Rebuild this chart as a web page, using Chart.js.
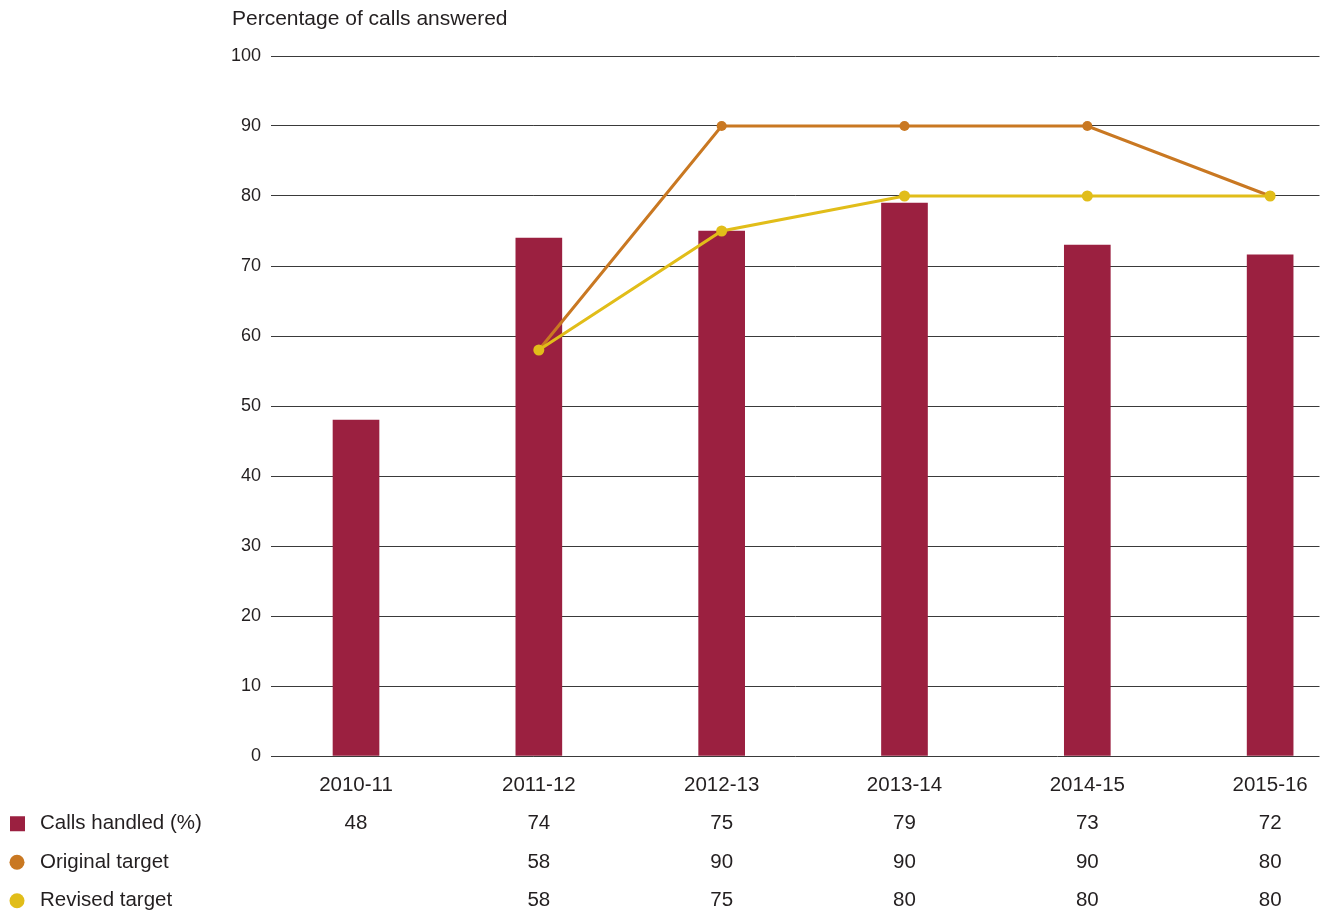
<!DOCTYPE html>
<html lang="en">
<head>
  <meta charset="UTF-8">
  <title>Percentage of calls answered</title>
  <script src="https://cdn.jsdelivr.net/npm/chart.js"></script>
  <style>
    body { margin: 0; background: #fff; }
    #wrap { width: 1325px; height: 913px; position: relative; }
  </style>
</head>
<body>
  <div id="wrap"><canvas id="myChart"></canvas></div>

  <script>
    // data
    const categories = ['2010-11', '2011-12', '2012-13', '2013-14', '2014-15', '2015-16'];
    const callsHandled = [48, 74, 75, 79, 73, 71.6];
    const originalTarget = [null, 58, 90, 90, 90, 80];
    const revisedTarget = [null, 58, 75, 80, 80, 80];
    const yTicks = [0, 10, 20, 30, 40, 50, 60, 70, 80, 90, 100];

    const seriesNames = ['Calls handled (%)', 'Original target', 'Revised target'];
    const colors = ['#9b2040', '#c97822', '#e1bd19'];

    const FONT = '"Liberation Sans", Arial, sans-serif';
    const TEXT = '#231f20';
    const FS = 20.5;
    const LINE_H = 38.5 / FS;

    const fmt = v => (v === null ? '' : String(Math.round(v)));
    const pts = arr => arr.map((v, i) => ({ x: i, y: v })).filter(p => p.y !== null);

    // y axis caption + row labels of the table under the x axis
    const extras = {
      id: 'extras',
      afterDraw(chart) {
        const ctx = chart.ctx;
        const xs = chart.scales.x;
        ctx.save();
        ctx.fillStyle = TEXT;
        ctx.textBaseline = 'middle';
        ctx.textAlign = 'left';
        ctx.font = '21px ' + FONT;
        ctx.fillText('Percentage of calls answered', 232, 19);

        ctx.font = FS + 'px ' + FONT;
        const lh = FS * LINE_H;
        const top = xs.top + xs.options.ticks.padding;
        seriesNames.forEach((name, i) => {
          const y = top + lh * (i + 1.5);
          ctx.fillStyle = colors[i];
          if (i === 0) {
            ctx.fillRect(10, y - 7.5, 15, 15);
          } else {
            ctx.beginPath();
            ctx.arc(17, y, 7.5, 0, Math.PI * 2);
            ctx.fill();
          }
          ctx.fillStyle = TEXT;
          ctx.fillText(name, 40, y);
        });
        ctx.restore();
      }
    };

    const ctx = document.getElementById('myChart').getContext('2d');
    new Chart(ctx, {
      type: 'bar',
      data: {
        datasets: [
          {
            type: 'line',
            label: seriesNames[2],
            data: pts(revisedTarget),
            borderColor: colors[2],
            backgroundColor: colors[2],
            borderWidth: 3,
            pointRadius: 5.5,
            pointBorderWidth: 0,
            pointBackgroundColor: colors[2],
            order: 0
          },
          {
            type: 'line',
            label: seriesNames[1],
            data: pts(originalTarget),
            borderColor: colors[1],
            backgroundColor: colors[1],
            borderWidth: 3,
            pointRadius: 5,
            pointBorderWidth: 0,
            pointBackgroundColor: colors[1],
            order: 1
          },
          {
            label: seriesNames[0],
            data: pts(callsHandled),
            backgroundColor: colors[0],
            barThickness: 46,
            order: 2
          }
        ]
      },
      plugins: [extras],
      options: {
        responsive: true,
        maintainAspectRatio: false,
        animation: false,
        layout: { padding: { top: 56, right: 5, left: 0, bottom: 0 } },
        plugins: {
          legend: { display: false },
          tooltip: { enabled: false }
        },
        scales: {
          x: {
            type: 'linear',
            offset: false,
            min: -0.465,
            max: 5.27,
            grid: { display: false, drawTicks: false, offset: false },
            border: { display: false },
            afterBuildTicks: scale => {
              scale.ticks = categories.map((_, i) => ({ value: i }));
            },
            afterFit: scale => { scale.height = 157; },
            ticks: {
              padding: 10,
              color: TEXT,
              maxRotation: 0,
              autoSkip: false,
              font: { family: FONT, size: FS, lineHeight: LINE_H },
              callback: v => {
                const i = Math.round(v);
                return [categories[i], fmt(callsHandled[i]), fmt(originalTarget[i]), fmt(revisedTarget[i])];
              }
            }
          },
          y: {
            min: 0,
            max: 100,
            afterBuildTicks: scale => {
              scale.ticks = yTicks.map(v => ({ value: v }));
            },
            afterFit: scale => { scale.width = 271; },
            grid: { color: '#3a3a3a', lineWidth: 1, drawTicks: false },
            border: { display: false },
            ticks: {
              padding: 10,
              color: TEXT,
              font: { family: FONT, size: 18 }
            }
          }
        }
      }
    });
  </script>
</body>
</html>
